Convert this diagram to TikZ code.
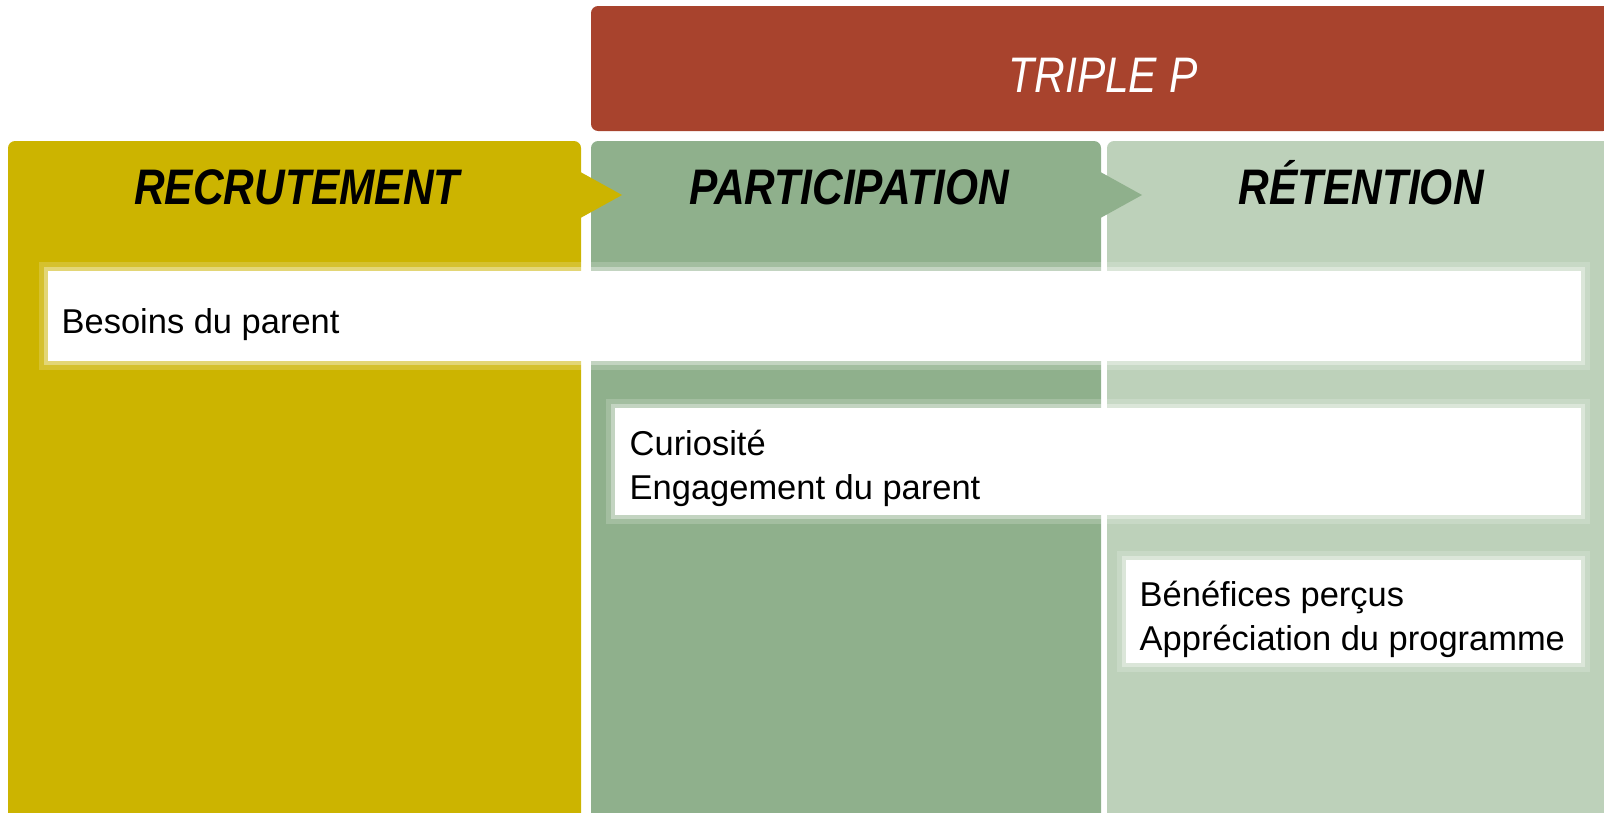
\documentclass[tikz,border=0pt]{standalone}
\usepackage{fontspec}
\setmainfont{Liberation Sans}
\definecolor{recr}{RGB}{204,180,0}
\definecolor{part}{RGB}{143,176,140}
\definecolor{rete}{RGB}{189,209,186}
\definecolor{tripleP}{RGB}{168,67,45}
\tikzset{
  colbox/.style={rounded corners=2, draw=none},
  headtxt/.style={anchor=base, inner sep=0, font=\fontsize{14.2pt}{14.2pt}\selectfont\bfseries\itshape},
  tiptri/.style={draw=none},
  glowA/.style={draw=white, draw opacity=0.18, line width=5},
  glowB/.style={draw=white, draw opacity=0.35, line width=2.5},
  softbox/.style={fill=white, draw=none},
  bodytxt/.style={anchor=base west, inner sep=0, font=\fontsize{9.8pt}{12pt}\selectfont}
}
\newcommand{\condensed}[1]{\scalebox{0.85}[1]{#1}}
\newcommand{\softrect}[2]{%
  \draw[glowA] #1 rectangle #2;
  \draw[glowB] #1 rectangle #2;
  \fill[softbox] #1 rectangle #2;}
\begin{document}
\begin{tikzpicture}[x=0.01cm, y=-0.01cm]
\useasboundingbox (0,0) rectangle (1604,812);
% top banner
\fill[tripleP, rounded corners=2] (591,6) rectangle (1610,131);
\node[anchor=base, inner sep=0, text=white, font=\fontsize{14.2pt}{14pt}\selectfont\itshape] (tp) at (1103,92) {\condensed{TRIPLE P}};
% columns
\fill[recr, colbox] (8,141) rectangle (581,820);
\fill[part, colbox] (591,141) rectangle (1101,820);
\fill[rete, colbox] (1107,141) rectangle (1610,820);
% arrows
\fill[recr, tiptri] (575,169) -- (622,195) -- (575,221) -- cycle;
\fill[part, tiptri] (1095,169) -- (1142,195) -- (1095,221) -- cycle;
% headings
\node[headtxt] (h1) at (297,204) {\condensed{RECRUTEMENT}};
\node[headtxt] (h2) at (849,204) {\condensed{PARTICIPATION}};
\node[headtxt] (h3) at (1361,204) {\condensed{RÉTENTION}};
% boxes
\softrect{(48,271)}{(1581,361)}
\softrect{(615,408)}{(1581,515)}
\softrect{(1126,560)}{(1581,663)}
% texts
\node[bodytxt] (b1) at (61,333) {Besoins du parent};
\node[bodytxt] (b2) at (629,455) {Curiosité};
\node[bodytxt] (b3) at (629,499) {Engagement du parent};
\node[bodytxt] (b4) at (1139,606) {Bénéfices perçus};
\node[bodytxt] (b5) at (1139,650) {Appréciation du programme};
\end{tikzpicture}
\end{document}
